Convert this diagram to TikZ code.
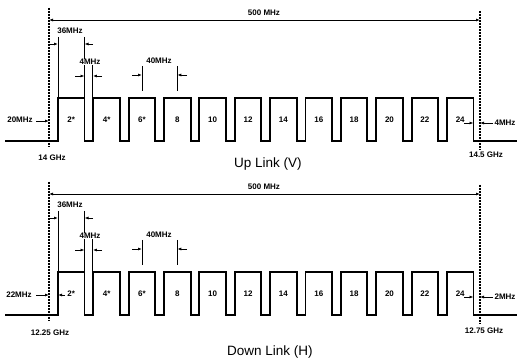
\documentclass[tikz,border=0pt]{standalone}
\usepackage{fontspec}
\setmainfont{Liberation Sans}
\usetikzlibrary{arrows.meta}
\begin{document}
\begin{tikzpicture}[x=1pt,y=-1pt,
  wave/.style={line width=1.9pt, line join=miter},
  bandedge/.style={line width=1.3pt, dash pattern=on 2pt off 1pt},
  dimline/.style={line width=0.9pt},
  darr/.style={line width=0.9pt,-{Latex[length=4pt,width=3pt]}},
  lbl/.style={font=\fontsize{8}{9}\selectfont\bfseries, inner sep=0pt},
  chl/.style={font=\fontsize{8}{9}\selectfont\bfseries, inner sep=0pt},
  ttl/.style={font=\fontsize{13.5}{15}\selectfont, inner sep=0pt}]
\useasboundingbox (0,0) rectangle (517,363);

% ---------- common panel drawing ----------
\foreach \p/\sh in {u/0, d/-174}{
\begin{scope}[yshift=\sh pt]
  % band edges
  \draw[bandedge] (49,8) -- (49,147);
  \draw[bandedge] (480,11) -- (480,150);
  % waveform
  \draw[wave] (5,141)
    \foreach \i in {0,...,11}{
      -- ({58+35.36*\i},141) -- ({58+35.36*\i},98)
      -- ({84.5+35.36*\i},98) -- ({84.5+35.36*\i},141)}
    -- (517,141);
  % channel numbers
  \foreach \i/\t in {0/2*,1/4*,2/6*,3/8,4/10,5/12,6/14,7/16,8/18,9/20,10/22,11/24}
    \node[chl] (\p c\i) at ({71.25+35.36*\i},120) {\t};
  % 500 MHz
  \coordinate (\p L) at (49,20);
  \coordinate (\p R) at (480,20);
  \draw[dimline,{Latex[length=4pt,width=3pt]}-{Latex[length=4pt,width=3pt]}] (\p L) -- (\p R);
  \node[lbl] (\p bw) at (264,13) {500 MHz};
  % 36 MHz
  \draw[dimline] (58,37) -- (58,98);
  \draw[dimline] (84.5,37) -- (84.5,98);
  \draw[darr] (49.5,44) -- (58,44);
  \draw[darr] (93,44) -- (84.5,44);
  \node[lbl] (\p w) at (70,31) {36MHz};
  % 4 MHz
  \draw[dimline] (92.9,65) -- (92.9,98);
  \draw[darr] (75,76) -- (84.5,76);
  \draw[darr] (102,76) -- (92.9,76);
  \node[lbl,fill=white,inner sep=0.6pt] (\p g) at (90,62) {4MHz};
  % 40 MHz
  \draw[dimline] (142,66) -- (142,91);
  \draw[dimline] (177.3,66) -- (177.3,91);
  \draw[darr] (132,75) -- (142,75);
  \draw[darr] (187,75) -- (177.3,75);
  \node[lbl] (\p s) at (159,61) {40MHz};
  % right guard
  \draw[darr] (464,123) -- (473.5,123);
  \draw[darr] (493,123) -- (480,123);
  % left guard arrow
  \draw[darr] (36,121) -- (49,121);
\end{scope}
}

% ---------- panel specific ----------
\node[lbl] (ulg) at (20,120) {20MHz};
\node[lbl] (urg) at (505,123) {4MHz};
\node[lbl] (uf1) at (52,158) {14 GHz};
\node[lbl] (uf2) at (486,155) {14.5 GHz};
\node[ttl] (ut) at (268,164) {Up Link (V)};

\begin{scope}[yshift=-174pt]
  \draw[darr] (65,121) -- (58,121);
\end{scope}
\node[lbl] (dlg) at (19,295) {22MHz};
\node[lbl] (drg) at (505,297) {2MHz};
\node[lbl] (df1) at (50,333) {12.25 GHz};
\node[lbl] (df2) at (484,331) {12.75 GHz};
\node[ttl] (dt) at (270,352) {Down Link (H)};
\end{tikzpicture}
\end{document}
